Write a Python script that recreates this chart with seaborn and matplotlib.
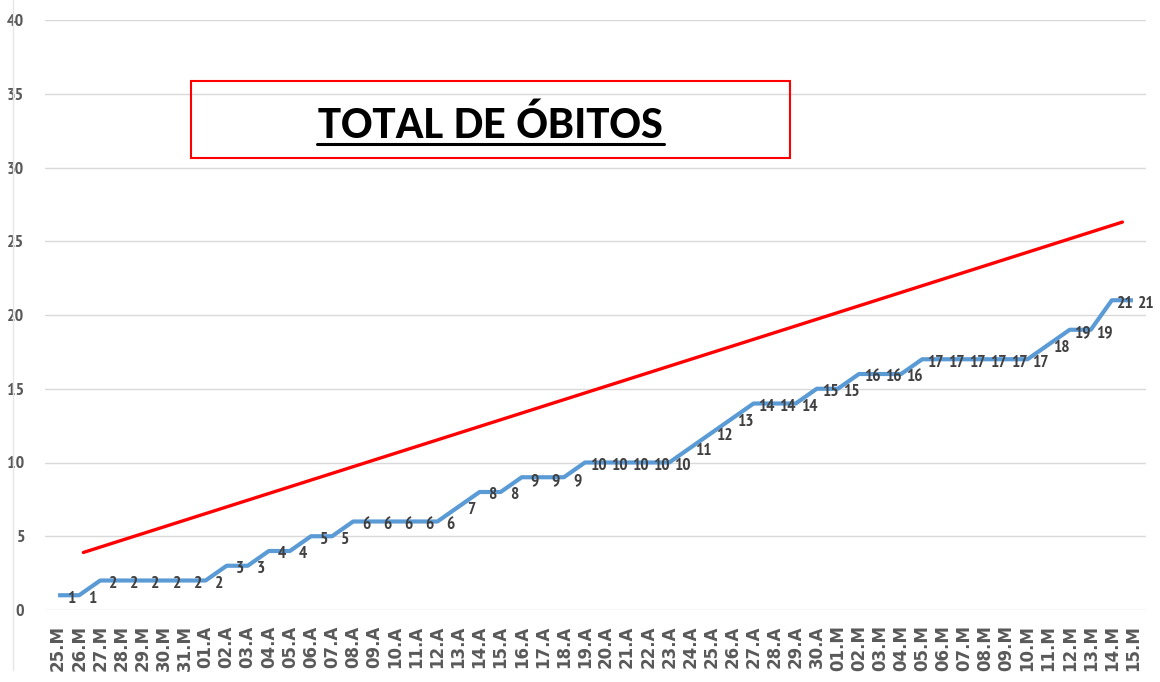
import matplotlib
matplotlib.use("Agg")
import matplotlib.pyplot as plt
import seaborn as sns
import pandas as pd
from matplotlib.patches import Rectangle
from matplotlib.lines import Line2D

# ---- data ----
dates = (
    [f"{d}.M" for d in range(25, 32)]
    + [f"{d:02d}.A" for d in range(1, 31)]
    + [f"{d:02d}.M" for d in range(1, 16)]
)
obitos = [1, 1, 2, 2, 2, 2, 2, 2, 3, 3, 4, 4, 5, 5, 6, 6, 6, 6, 6, 7, 8, 8,
          9, 9, 9, 10, 10, 10, 10, 10, 11, 12, 13, 14, 14, 14, 15, 15, 16, 16,
          16, 17, 17, 17, 17, 17, 17, 18, 19, 19, 21, 21]
trend_x = [1.2, 50.5]
trend_y = [3.9, 26.3]
title = "TOTAL DE ÓBITOS"
y_ticks = [0, 5, 10, 15, 20, 25, 30, 35, 40]

df = pd.DataFrame({"idx": range(len(dates)), "obitos": obitos})
tdf = pd.DataFrame({"x": trend_x, "y": trend_y})

sns.set_theme(style="white")
narrow = ["PT Sans Narrow", "DejaVu Sans"]

fig = plt.figure(figsize=(11.6, 6.82), dpi=100)
ax = fig.add_axes([45 / 1160, 1 - 610 / 682, (1146 - 45) / 1160, 590 / 682])

sns.lineplot(data=df, x="idx", y="obitos", ax=ax, color="#5B9BD5", linewidth=3.0,
             solid_joinstyle="round", solid_capstyle="butt")
sns.lineplot(data=tdf, x="x", y="y", ax=ax, color="#FF0000", linewidth=2.4)

for i, v in zip(df["idx"], df["obitos"]):
    ax.annotate(str(v), (i, v), xytext=(9.5, -2.5), textcoords="offset points",
                ha="center", va="center", fontsize=12.5, color="#404040",
                family=narrow, fontweight="bold")

ax.set_xlim(-0.62, 51.62)
ax.set_ylim(0, 40)
ax.set_yticks(y_ticks)
ax.set_yticklabels([str(t) for t in y_ticks], family=narrow, fontsize=13,
                   color="#595959", fontweight="bold")
ax.set_xticks(range(len(dates)))
ax.set_xticklabels(dates, rotation=90, family="DejaVu Sans", fontsize=12,
                   fontweight="bold", color="#595959", va="top", ha="center")
ax.tick_params(axis="x", length=0, pad=11)
ax.tick_params(axis="y", length=0, pad=15)
ax.set_xlabel("")
ax.set_ylabel("")
ax.yaxis.grid(True, color="#D9D9D9", linewidth=1.0)
ax.xaxis.grid(False)
for s in ax.spines.values():
    s.set_visible(False)
ax.set_axisbelow(True)

# chart-area border on the left
fig.add_artist(Line2D([13 / 1160, 13 / 1160], [1 - 670 / 682, 1.0],
                      color="#E6E6E6", linewidth=1.0))

# title box
fig.add_artist(Rectangle((191 / 1160, 1 - 158 / 682), 599 / 1160, 77 / 682,
                         fill=False, edgecolor="#FF0000", linewidth=1.5))
t = fig.text(490 / 1160, 1 - 138 / 682, title, ha="center", va="baseline",
             fontsize=33.5, fontweight="bold", family=["Carlito", "DejaVu Sans"],
             color="black")
fig.add_artist(Line2D([317 / 1160, 664 / 1160], [1 - 143.5 / 682, 1 - 143.5 / 682],
                      color="black", linewidth=2.2))

fig.savefig("out.png", dpi=100)
